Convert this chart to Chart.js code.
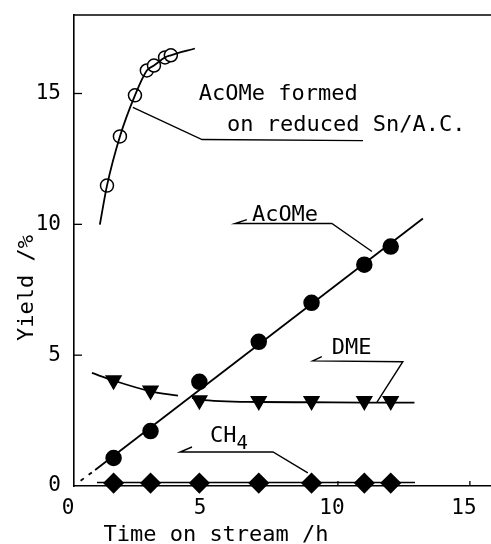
<!DOCTYPE html>
<html>
<head>
<meta charset="utf-8">
<script src="https://cdn.jsdelivr.net/npm/chart.js@4"></script>
<style>
  html, body { margin: 0; padding: 0; background: #fff; }
  #wrap { width: 491px; height: 544px; }
</style>
</head>
<body>
<div id="wrap"><canvas id="myChart" width="491" height="544"></canvas></div>
<script>
// time on stream /h (same sampling for the three products)
const times = [1.5, 2.9, 4.75, 7.0, 9.0, 11.0, 12.0];
const acomeYield = [1.07, 2.10, 3.98, 5.51, 7.00, 8.46, 9.15];
const dmeYield = [4.04, 3.65, 3.28, 3.25, 3.25, 3.25, 3.25];
const ch4Yield = [0.11, 0.11, 0.11, 0.11, 0.11, 0.11, 0.11];

// AcOMe formed on reduced Sn/A.C.
const snTimes = [1.25, 1.74, 2.31, 2.76, 3.03, 3.45, 3.67];
const snYield = [11.48, 13.36, 14.93, 15.88, 16.07, 16.38, 16.46];

// hand drawn curves
const snCurveX = [0.98, 1.25, 1.74, 2.31, 2.76, 3.03, 3.45, 3.67, 4.58];
const snCurveY = [9.99, 11.48, 13.36, 14.93, 15.88, 16.07, 16.38, 16.46, 16.72];
const acomeLineX = [0.8, 13.22];
const acomeLineY = [0.61, 10.22];
const acomeDashX = [0.25, 0.8];
const acomeDashY = [0.2, 0.61];
const dmeCurveX = [0.68, 1.5, 2.9, 3.94, null, 4.47, 4.75, 7.0, 9.0, 11.0, 12.9];
const dmeCurveY = [4.32, 4.03, 3.62, 3.45, null, 3.37, 3.30, 3.21, 3.20, 3.19, 3.19];
const ch4LineX = [0.87, 12.92];
const ch4LineY = [0.13, 0.13];

const xTicks = [0, 5, 10, 15];
const yTicks = [0, 5, 10, 15];

const pts = (xs, ys) => xs.map((v, i) => ({x: v, y: ys[i]}));
const FONT = '"DejaVu Sans Mono", monospace';

// labels and leader lines, in data units
const notes = [
  {text: 'AcOMe formed', x: 4.73, y: 14.77},
  {text: 'on reduced Sn/A.C.', x: 5.80, y: 13.55},
  {text: 'AcOMe', x: 6.74, y: 10.14},
  {text: 'DME', x: 9.77, y: 5.05},
  {text: 'CH', x: 5.15, y: 1.68, sub: '4'}
];
const leaders = [
  [[2.23, 14.47], [4.85, 13.24], [10.95, 13.20]],
  [[6.55, 10.18], [6.10, 10.03], [9.77, 10.03], [11.29, 8.96]],
  [[9.39, 4.94], [9.05, 4.78], [12.46, 4.75], [11.48, 3.21]],
  [[4.47, 1.49], [4.02, 1.30], [7.54, 1.30], [8.86, 0.50]]
];

const extras = {
  id: 'extras',
  afterDraw(chart) {
    const {ctx, chartArea: a, scales: {x, y}} = chart;
    const px = v => x.getPixelForValue(v);
    const py = v => y.getPixelForValue(v);
    ctx.save();
    ctx.strokeStyle = '#000';
    ctx.fillStyle = '#000';
    ctx.lineWidth = 1.6;
    // top frame
    ctx.beginPath();
    ctx.moveTo(a.left, a.top);
    ctx.lineTo(a.right, a.top);
    ctx.stroke();
    // inward ticks
    ctx.lineWidth = 1.3;
    yTicks.slice(1).forEach(v => {
      ctx.beginPath();
      ctx.moveTo(a.left, py(v));
      ctx.lineTo(a.left + 8, py(v));
      ctx.stroke();
    });
    xTicks.slice(1).forEach(v => {
      ctx.beginPath();
      ctx.moveTo(px(v), a.bottom);
      ctx.lineTo(px(v), a.bottom - 5);
      ctx.stroke();
    });
    // leader lines
    ctx.lineWidth = 1.4;
    leaders.forEach(line => {
      ctx.beginPath();
      line.forEach(([vx, vy], i) => {
        if (i) ctx.lineTo(px(vx), py(vy));
        else ctx.moveTo(px(vx), py(vy));
      });
      ctx.stroke();
    });
    // labels
    ctx.textAlign = 'left';
    ctx.textBaseline = 'alphabetic';
    notes.forEach(n => {
      ctx.font = '22px ' + FONT;
      ctx.fillText(n.text, px(n.x), py(n.y));
      if (n.sub) {
        const w = ctx.measureText(n.text).width;
        ctx.font = '19px ' + FONT;
        ctx.fillText(n.sub, px(n.x) + w, py(n.y) + 7);
      }
    });
    // axis titles
    ctx.font = '22px ' + FONT;
    ctx.textAlign = 'center';
    ctx.fillText('Time on stream /h', 216, 541);
    ctx.translate(33, 288);
    ctx.rotate(-Math.PI / 2);
    ctx.fillText('Yield /%', 0, 0);
    ctx.restore();
  }
};

const lineSet = (data, extra) => Object.assign({
  data: data,
  showLine: true,
  borderColor: '#000',
  borderWidth: 1.8,
  pointRadius: 0,
  pointHoverRadius: 0,
  fill: false,
  clip: false
}, extra);

const markSet = (data, style, radius, filled, extra) => Object.assign({
  data: data,
  showLine: false,
  pointStyle: style,
  pointRadius: radius,
  pointHoverRadius: radius,
  pointBackgroundColor: filled ? '#000' : '#fff',
  pointBorderColor: '#000',
  pointBorderWidth: 1.5,
  clip: false
}, extra);

const noPad = s => {
  s.paddingTop = 0;
  s.paddingBottom = 0;
  s.paddingLeft = 0;
  s.paddingRight = 0;
};

const config = {
  type: 'scatter',
  data: {
    datasets: [
      lineSet(pts(snCurveX, snCurveY), {tension: 0.4, cubicInterpolationMode: 'monotone'}),
      lineSet(pts(acomeLineX, acomeLineY)),
      lineSet(pts(acomeDashX, acomeDashY), {borderDash: [4, 6]}),
      lineSet(pts(dmeCurveX, dmeCurveY), {cubicInterpolationMode: 'monotone', spanGaps: false}),
      lineSet(pts(ch4LineX, ch4LineY), {borderWidth: 1.5}),
      markSet(pts(snTimes, snYield), 'circle', 6.5, false),
      markSet(pts(times, acomeYield), 'circle', 7.5, true),
      markSet(pts(times, dmeYield), 'triangle', 8.5, true, {rotation: 180}),
      markSet(pts(times, ch4Yield), 'rectRot', 9.5, true)
    ]
  },
  options: {
    responsive: false,
    animation: false,
    events: [],
    layout: {autoPadding: false, padding: {top: 15, right: 0, left: 0, bottom: 0}},
    plugins: {legend: {display: false}, tooltip: {enabled: false}},
    scales: {
      x: {
        type: 'linear',
        min: 0,
        max: 15.8,
        afterFit: s => { s.height = 58; noPad(s); },
        afterBuildTicks: s => { s.ticks = xTicks.map(v => ({value: v})); },
        ticks: {
          color: '#000',
          font: {family: FONT, size: 21},
          padding: 10,
          labelOffset: -6,
          maxRotation: 0
        },
        grid: {display: true, drawOnChartArea: false, drawTicks: false},
        border: {display: true, color: '#000', width: 1.6}
      },
      y: {
        type: 'linear',
        min: 0,
        max: 18,
        afterFit: s => { s.width = 74; noPad(s); },
        afterBuildTicks: s => { s.ticks = yTicks.map(v => ({value: v})); },
        ticks: {
          color: '#000',
          font: {family: FONT, size: 21},
          padding: 13
        },
        grid: {display: true, drawOnChartArea: false, drawTicks: false},
        border: {display: true, color: '#000', width: 1.6}
      }
    }
  },
  plugins: [extras]
};

const myChart = new Chart(document.getElementById('myChart'), config);
</script>
</body>
</html>
